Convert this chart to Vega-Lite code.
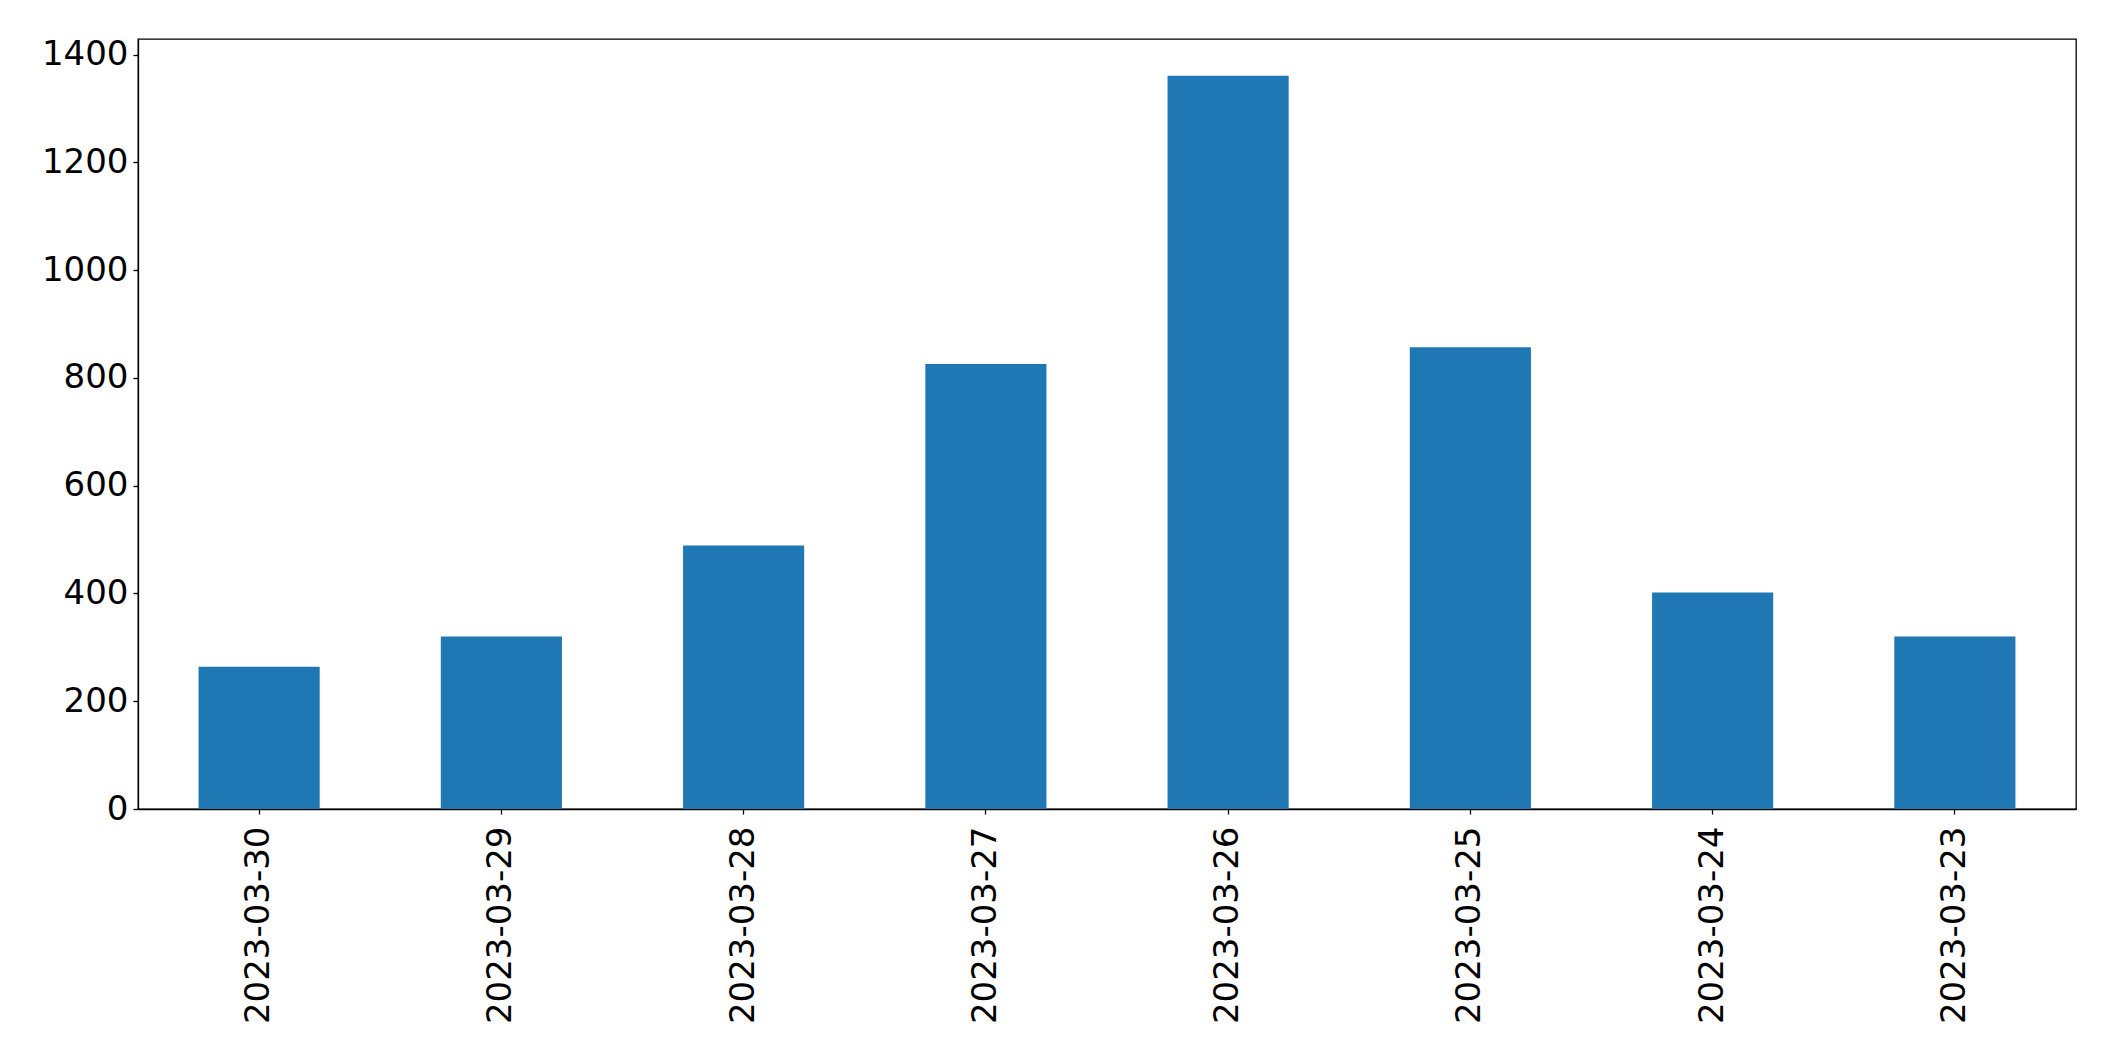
{
  "$schema": "https://vega.github.io/schema/vega-lite/v6.json",
  "autosize": "none",
  "padding": {"left": 138, "top": 39, "right": 39, "bottom": 252},
  "width": 1938,
  "height": 770,
  "background": "white",
  "data": {
    "values": [
      {"date": "2023-03-30", "count": 264},
      {"date": "2023-03-29", "count": 320},
      {"date": "2023-03-28", "count": 489},
      {"date": "2023-03-27", "count": 826},
      {"date": "2023-03-26", "count": 1361},
      {"date": "2023-03-25", "count": 857},
      {"date": "2023-03-24", "count": 402},
      {"date": "2023-03-23", "count": 320}
    ]
  },
  "mark": {"type": "bar", "color": "#1f77b4"},
  "encoding": {
    "x": {
      "field": "date",
      "type": "nominal",
      "sort": null,
      "scale": {"paddingInner": 0.5, "paddingOuter": 0.25},
      "axis": {
        "title": null,
        "labelAngle": -90,
        "labelFont": "DejaVu Sans",
        "labelFontSize": 34,
        "labelColor": "black",
        "labelPadding": 12,
        "labelLimit": 0,
        "tickSize": 5,
        "tickColor": "black",
        "domainColor": "black",
        "grid": false
      }
    },
    "y": {
      "field": "count",
      "type": "quantitative",
      "scale": {"domain": [0, 1429], "nice": false},
      "axis": {
        "title": null,
        "format": "d",
        "values": [0, 200, 400, 600, 800, 1000, 1200, 1400],
        "labelFont": "DejaVu Sans",
        "labelFontSize": 34,
        "labelColor": "black",
        "labelPadding": 5,
        "labelLimit": 0,
        "tickSize": 5,
        "tickColor": "black",
        "domainColor": "black",
        "grid": false
      }
    }
  },
  "config": {
    "view": {"stroke": "black", "strokeWidth": 1.3},
    "axis": {"domainWidth": 1.3, "tickWidth": 1.3, "labelFlush": false, "labelOverlap": false}
  }
}
